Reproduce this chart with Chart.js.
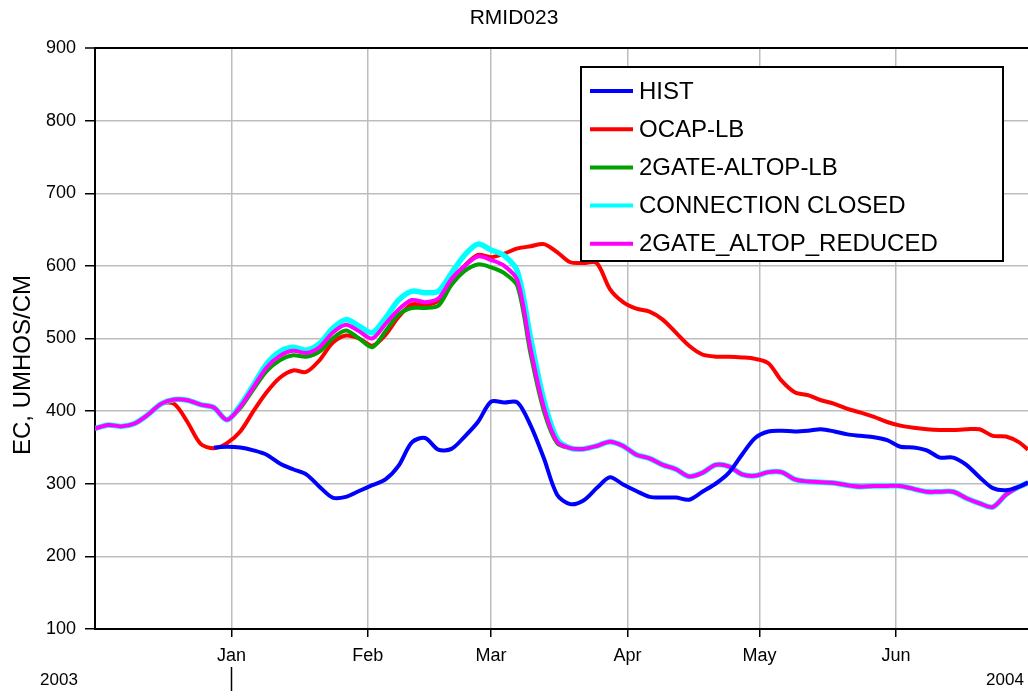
<!DOCTYPE html>
<html lang="en">
<head>
    <meta charset="UTF-8">
    <title>RMID023</title>
    <script src="https://cdn.jsdelivr.net/npm/chart.js"></script>
    <style>
        body { margin: 0; background: #ffffff; }
        #caixa { width: 1028px; height: 696px; }
    </style>
</head>
<body>
    <div id="caixa">
        <canvas id="grafico" width="1028" height="696"></canvas>
    </div>
<script>
    // days counted from 1 Dec 2002 (0) to 1 Jul 2003 (212)
    const dias = [0, 3, 6, 9, 12, 15, 18, 21, 24, 27, 30, 33, 36, 39, 42, 45, 48, 51, 54, 57,
        60, 63, 66, 69, 72, 75, 78, 81, 84, 87, 90, 93, 96, 99, 102, 105, 108, 111, 114, 117,
        120, 123, 126, 129, 132, 135, 138, 141, 144, 147, 150, 153, 156, 159, 162, 165, 168, 171, 174, 177,
        180, 183, 186, 189, 192, 195, 198, 201, 204, 207, 210, 212];

    const mesesDias = [31, 62, 90, 121, 151, 182];
    const mesesRotulos = ['Jan', 'Feb', 'Mar', 'Apr', 'May', 'Jun'];
    const anosRotulos = ['2003', '2004'];

    const yTicks = [100, 200, 300, 400, 500, 600, 700, 800, 900];

    const nomes = ['HIST', 'OCAP-LB', '2GATE-ALTOP-LB', 'CONNECTION CLOSED', '2GATE_ALTOP_REDUCED'];
    const cores = ['#0000ff', '#ff0000', '#00a000', '#00ffff', '#ff00ff'];

    const hist = [null, null, null, null, null, null, null, null, null, 350,
        351, 350, 346, 340, 328, 320, 313, 296, 281, 282,
        290, 298, 306, 325, 357, 363, 347, 348, 365, 385,
        413, 412, 412, 380, 335, 285, 272, 277, 294, 309,
        299, 290, 282, 281, 281, 278, 289, 300, 315, 340,
        363, 372, 373, 372, 373, 375, 372, 368, 366, 364,
        360, 351, 350, 346, 336, 336, 326, 309, 294, 291, 296, 302];

    const ocap = [376, 381, 379, 383, 395, 410, 410, 385, 355, 349,
        356, 372, 400, 426, 446, 456, 454, 470, 494, 504,
        500, 490, 505, 530, 547, 546, 552, 578, 600, 615,
        612, 617, 624, 627, 630, 619, 605, 604, 604, 568,
        550, 541, 537, 526, 508, 490, 478, 475, 475, 474,
        472, 466, 442, 426, 422, 415, 410, 403, 398, 392,
        385, 380, 377, 375, 374, 374, 375, 375, 366, 365, 357, 347];

    const altopLb = [376, 381, 379, 383, 395, 410, 416, 415, 409, 405,
        388, 404, 430, 455, 470, 477, 475, 482, 500, 511,
        500, 488, 510, 533, 542, 542, 545, 574, 593, 602,
        598, 590, 572, 478, 400, 356, 349, 348, 352, 358,
        352, 340, 335, 326, 320, 310, 315, 326, 324, 313,
        311, 316, 316, 306, 303, 302, 301, 298, 296, 297,
        297, 297, 293, 289, 289, 289, 280, 273, 268, 285, 296, 301];

    const fechado = [376, 381, 379, 383, 395, 410, 416, 415, 409, 405,
        388, 408, 436, 465, 482, 488, 484, 493, 514, 526,
        517, 508, 528, 553, 565, 563, 565, 590, 615, 630,
        622, 614, 592, 500, 415, 362, 349, 348, 352, 358,
        352, 340, 335, 326, 320, 310, 315, 326, 324, 313,
        311, 316, 316, 306, 303, 302, 301, 298, 296, 297,
        297, 297, 293, 289, 289, 289, 280, 273, 268, 285, 296, 301];

    const reduzido = [376, 381, 379, 383, 395, 410, 416, 415, 409, 405,
        388, 406, 433, 460, 476, 483, 480, 488, 508, 519,
        510, 500, 520, 540, 553, 550, 555, 582, 600, 613,
        608, 600, 580, 485, 405, 358, 349, 348, 352, 358,
        352, 340, 335, 326, 320, 310, 315, 326, 324, 313,
        311, 316, 316, 306, 303, 302, 301, 298, 296, 297,
        297, 297, 293, 289, 289, 289, 280, 273, 268, 285, 296, 301];

    const series = [hist, ocap, altopLb, fechado, reduzido];
    // drawing order: HIST on top, then magenta over cyan over green over red
    const ordem = [0, 4, 3, 2, 1];
    const larguras = [4, 4, 4, 5.5, 4];

    function montarPontos(valores) {
        let pontos = [];
        for (let i = 0; i < dias.length; i++) {
            pontos.push({ x: dias[i], y: valores[i] });
        }
        return pontos;
    }

    let dados = { datasets: [] };
    for (let i = 0; i < series.length; i++) {
        dados.datasets.push({
            label: nomes[i],
            data: montarPontos(series[i]),
            borderColor: cores[i],
            backgroundColor: cores[i],
            borderWidth: larguras[i],
            pointRadius: 0,
            tension: 0.3,
            spanGaps: false,
            order: ordem[i]
        });
    }

    // legend box, y title and the year row drawn by hand
    const extras = {
        id: 'extras',
        afterDatasetsDraw(chart) {
            const ctx = chart.ctx;
            ctx.save();
            // legend
            ctx.fillStyle = '#ffffff';
            ctx.fillRect(581, 67, 422, 194);
            ctx.strokeStyle = '#000000';
            ctx.lineWidth = 2;
            ctx.strokeRect(581, 67, 422, 194);
            ctx.font = '24px "Liberation Sans", Arial, sans-serif';
            ctx.textBaseline = 'middle';
            ctx.textAlign = 'left';
            chart.data.datasets.forEach(function (ds, i) {
                let y = 91 + i * 38.2;
                ctx.strokeStyle = ds.borderColor;
                ctx.lineWidth = 4;
                ctx.beginPath();
                ctx.moveTo(590, y);
                ctx.lineTo(633, y);
                ctx.stroke();
                ctx.fillStyle = '#000000';
                ctx.fillText(ds.label, 639, y + 1);
            });
            ctx.restore();
        },
        afterDraw(chart) {
            const ctx = chart.ctx;
            const xs = chart.scales.x;
            ctx.save();
            ctx.fillStyle = '#000000';
            // y axis title
            ctx.font = '24px "Liberation Sans", Arial, sans-serif';
            ctx.textAlign = 'center';
            ctx.textBaseline = 'middle';
            ctx.translate(23, 365);
            ctx.rotate(-Math.PI / 2);
            ctx.fillText('EC, UMHOS/CM', 0, 0);
            ctx.restore();

            ctx.save();
            ctx.fillStyle = '#000000';
            ctx.font = '17px "Liberation Sans", Arial, sans-serif';
            ctx.textAlign = 'center';
            ctx.textBaseline = 'middle';
            ctx.fillText(anosRotulos[0], 59, 680);
            ctx.fillText(anosRotulos[1], 1005, 680);
            let xJan = Math.round(xs.getPixelForValue(mesesDias[0])) + 0.5;
            ctx.strokeStyle = '#000000';
            ctx.lineWidth = 1.5;
            ctx.beginPath();
            ctx.moveTo(xJan, 667);
            ctx.lineTo(xJan, 691);
            ctx.stroke();
            ctx.restore();
        }
    };

    const config = {
        type: 'line',
        data: dados,
        options: {
            responsive: false,
            animation: false,
            layout: { padding: { left: 0, right: 0, top: 0, bottom: 0 } },
            plugins: {
                legend: { display: false },
                tooltip: { enabled: false },
                title: {
                    display: true,
                    text: 'RMID023',
                    color: '#000000',
                    font: { family: '"Liberation Sans", Arial, sans-serif', size: 21, weight: 'normal' },
                    padding: { top: 6, bottom: 16.8 }
                }
            },
            scales: {
                x: {
                    type: 'linear',
                    min: 0,
                    max: 212,
                    afterBuildTicks: function (scale) {
                        scale.ticks = mesesDias.map(function (v) { return { value: v }; });
                    },
                    afterFit: function (scale) { scale.height = 67; },
                    ticks: {
                        autoSkip: false,
                        maxRotation: 0,
                        padding: 8,
                        color: '#000000',
                        font: { family: '"Liberation Sans", Arial, sans-serif', size: 18 },
                        callback: function (value) {
                            let i = mesesDias.indexOf(value);
                            return i >= 0 ? mesesRotulos[i] : '';
                        }
                    },
                    grid: {
                        color: '#bdbdbd',
                        lineWidth: 1.5,
                        tickColor: '#000000',
                        tickLength: 8,
                        tickWidth: 1.5
                    },
                    border: { display: true, color: '#000000', width: 2 }
                },
                y: {
                    min: 100,
                    max: 900,
                    afterBuildTicks: function (scale) {
                        scale.ticks = yTicks.map(function (v) { return { value: v }; });
                    },
                    afterFit: function (scale) { scale.width = 95; },
                    ticks: {
                        padding: 9,
                        color: '#000000',
                        font: { family: '"Liberation Sans", Arial, sans-serif', size: 18 }
                    },
                    grid: {
                        color: function (c) { return c.tick && c.tick.value === 900 ? '#000000' : '#bdbdbd'; },
                        lineWidth: function (c) { return c.tick && c.tick.value === 900 ? 2 : 1.5; },
                        tickColor: '#000000',
                        tickLength: 10,
                        tickWidth: 1.5
                    },
                    border: { display: true, color: '#000000', width: 2 }
                }
            }
        },
        plugins: [extras]
    };

    let meuGrafico = new Chart(document.getElementById('grafico'), config);
</script>
</body>
</html>
